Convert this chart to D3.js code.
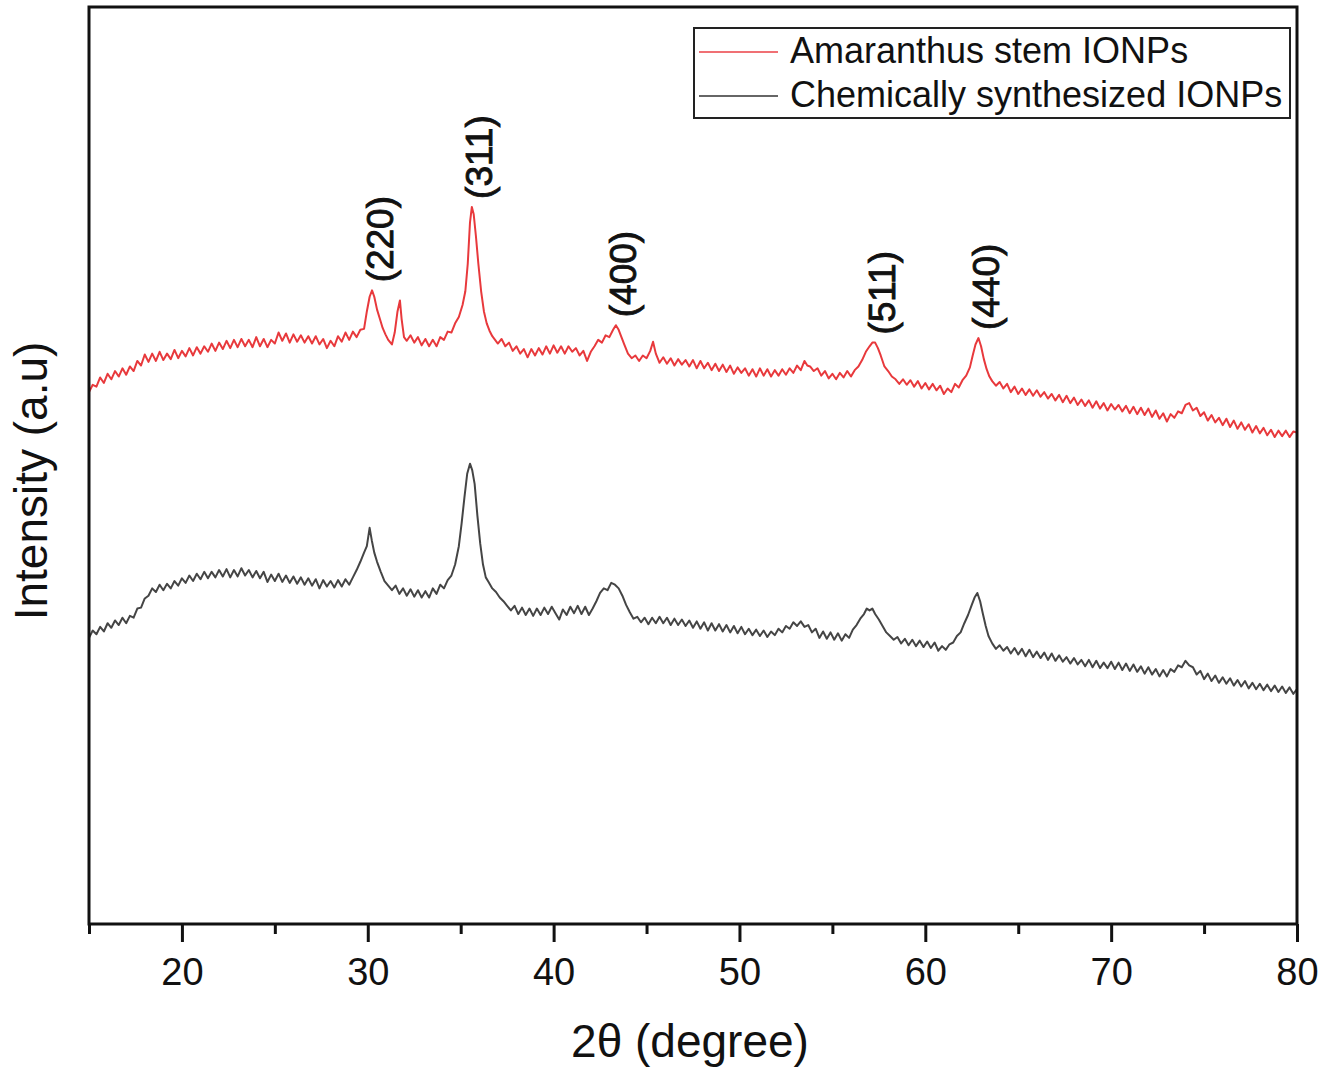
<!DOCTYPE html>
<html>
<head>
<meta charset="utf-8">
<script src="https://cdn.jsdelivr.net/npm/d3@7"></script>
<style>
  body { margin: 0; background: #fff; }
  text { font-family: Arial, "Liberation Sans", sans-serif; }
</style>
</head>
<body>
<div id="chart-area"></div>
<script>
// XRD patterns, [2theta, intensity (a.u.)]
const amaranthusStem = [
	[15.0,580],[15.2,588],[15.4,586],[15.6,596],[15.8,590],[16.0,600],[16.2,594],[16.4,603],[16.6,597],[16.8,606],
	[17.0,599],[17.2,608],[17.4,603],[17.6,614],[17.8,609],[18.0,621],[18.2,613],[18.4,622],[18.6,614],[18.8,624],
	[19.0,615],[19.2,622],[19.4,616],[19.6,626],[19.8,617],[20.0,625],[20.2,619],[20.4,628],[20.6,620],[20.8,629],
	[21.0,622],[21.2,630],[21.4,624],[21.6,633],[21.8,625],[22.0,634],[22.2,627],[22.4,636],[22.6,628],[22.8,637],
	[23.0,629],[23.2,638],[23.4,630],[23.6,637],[23.8,629],[24.0,640],[24.2,630],[24.4,638],[24.6,629],[24.8,637],
	[25.0,633],[25.2,645],[25.4,636],[25.6,644],[25.8,634],[26.0,643],[26.2,635],[26.4,642],[26.6,634],[26.8,641],
	[27.0,633],[27.2,641],[27.4,632],[27.6,638],[27.8,628],[28.0,636],[28.2,630],[28.4,641],[28.6,635],[28.8,645],
	[29.0,637],[29.2,646],[29.4,640],[29.6,648],[29.8,649],[29.95,668],[30.1,684],[30.23,691],[30.35,684],[30.5,670],
	[30.65,660],[30.8,650],[30.95,643],[31.1,637],[31.3,632],[31.45,645],[31.6,668],[31.73,680],[31.82,660],[31.95,640],
	[32.1,636],[32.3,642],[32.5,634],[32.7,640],[32.9,631],[33.1,638],[33.3,630],[33.5,637],[33.7,630],[33.9,640],
	[34.1,637],[34.3,646],[34.5,645],[34.7,655],[34.9,662],[35.1,675],[35.25,690],[35.38,720],[35.5,765],[35.6,782],
	[35.7,774],[35.82,750],[35.95,720],[36.1,690],[36.25,668],[36.4,655],[36.55,647],[36.7,641],[36.85,637],[37.0,633],
	[37.2,638],[37.4,630],[37.6,634],[37.8,625],[38.0,630],[38.2,622],[38.4,627],[38.6,618],[38.8,627],[39.0,620],
	[39.2,628],[39.4,621],[39.6,630],[39.8,622],[40.0,631],[40.2,623],[40.4,630],[40.6,622],[40.8,630],[41.0,624],
	[41.2,628],[41.4,620],[41.6,625],[41.8,614],[42.0,624],[42.2,630],[42.4,637],[42.6,634],[42.8,642],[43.0,640],
	[43.2,648],[43.35,653],[43.5,648],[43.65,640],[43.8,632],[44.0,622],[44.2,617],[44.4,620],[44.6,614],[44.8,620],
	[45.0,617],[45.2,625],[45.35,635],[45.5,622],[45.7,612],[45.9,618],[46.1,611],[46.3,617],[46.5,609],[46.7,616],
	[46.9,610],[47.1,615],[47.3,608],[47.5,615],[47.7,606],[47.9,614],[48.1,606],[48.3,612],[48.5,604],[48.7,611],
	[48.9,603],[49.1,610],[49.3,602],[49.5,609],[49.7,600],[49.9,607],[50.1,601],[50.3,606],[50.5,598],[50.7,605],
	[50.9,597],[51.1,606],[51.3,598],[51.5,605],[51.7,597],[51.9,604],[52.1,598],[52.3,605],[52.5,599],[52.7,606],
	[52.9,601],[53.1,609],[53.3,604],[53.5,614],[53.65,609],[53.8,608],[54.0,603],[54.2,606],[54.4,598],[54.6,603],
	[54.8,595],[55.0,600],[55.2,594],[55.4,601],[55.6,596],[55.8,603],[56.0,597],[56.2,604],[56.4,608],[56.6,615],
	[56.8,624],[57.0,630],[57.15,634],[57.3,634],[57.45,628],[57.6,620],[57.8,608],[58.0,603],[58.2,597],[58.4,594],
	[58.6,589],[58.8,594],[59.0,588],[59.2,593],[59.4,586],[59.6,592],[59.8,584],[60.0,590],[60.2,583],[60.4,589],
	[60.6,582],[60.8,587],[61.0,578],[61.2,584],[61.4,580],[61.6,589],[61.8,585],[62.0,593],[62.2,598],[62.4,607],
	[62.55,620],[62.7,632],[62.86,639],[63.0,630],[63.15,616],[63.3,605],[63.45,597],[63.6,592],[63.8,587],[64.0,591],
	[64.2,584],[64.4,589],[64.6,580],[64.8,586],[65.0,578],[65.2,584],[65.4,577],[65.6,583],[65.8,576],[66.0,582],
	[66.2,575],[66.4,580],[66.6,573],[66.8,578],[67.0,571],[67.2,577],[67.4,569],[67.6,576],[67.8,568],[68.0,574],
	[68.2,566],[68.4,572],[68.6,565],[68.8,571],[69.0,563],[69.2,570],[69.4,562],[69.6,568],[69.8,560],[70.0,567],
	[70.2,561],[70.4,566],[70.6,559],[70.8,565],[71.0,557],[71.2,564],[71.4,556],[71.6,563],[71.8,555],[72.0,562],
	[72.2,553],[72.4,560],[72.6,551],[72.8,557],[73.0,548],[73.2,556],[73.4,552],[73.6,559],[73.8,557],[74.0,566],
	[74.2,568],[74.4,560],[74.6,563],[74.8,554],[75.0,558],[75.2,549],[75.4,555],[75.6,547],[75.8,552],[76.0,544],
	[76.2,551],[76.4,542],[76.6,549],[76.8,540],[77.0,547],[77.2,539],[77.4,545],[77.6,536],[77.8,543],[78.0,535],
	[78.2,541],[78.4,533],[78.6,539],[78.8,531],[79.0,538],[79.2,532],[79.4,538],[79.6,531],[79.8,537],[80.0,536]
];

const chemicalSynth = [
	[15.0,312],[15.2,320],[15.4,316],[15.6,324],[15.8,319],[16.0,328],[16.2,323],[16.4,331],[16.6,326],[16.8,334],
	[17.0,328],[17.2,336],[17.4,334],[17.6,344],[17.8,345],[18.0,355],[18.2,358],[18.4,366],[18.6,362],[18.8,370],
	[19.0,364],[19.2,371],[19.4,366],[19.6,374],[19.8,369],[20.0,377],[20.2,372],[20.4,380],[20.6,374],[20.8,382],
	[21.0,376],[21.2,384],[21.4,377],[21.6,384],[21.8,378],[22.0,386],[22.2,379],[22.4,387],[22.6,378],[22.8,386],
	[23.0,379],[23.2,388],[23.4,380],[23.6,386],[23.8,378],[24.0,385],[24.2,377],[24.4,384],[24.6,373],[24.8,381],
	[25.0,374],[25.2,382],[25.4,373],[25.6,380],[25.8,372],[26.0,379],[26.2,371],[26.4,378],[26.6,370],[26.8,377],
	[27.0,369],[27.2,376],[27.4,366],[27.6,375],[27.8,368],[28.0,374],[28.2,367],[28.4,375],[28.6,368],[28.8,376],
	[29.0,370],[29.2,378],[29.4,386],[29.6,395],[29.8,405],[29.95,412],[30.1,432],[30.22,418],[30.35,405],[30.5,395],
	[30.7,384],[30.9,374],[31.1,369],[31.3,364],[31.5,369],[31.7,360],[31.9,366],[32.1,358],[32.3,365],[32.5,357],
	[32.7,364],[32.9,356],[33.1,363],[33.3,356],[33.5,366],[33.7,360],[33.9,370],[34.1,366],[34.3,375],[34.5,380],
	[34.7,392],[34.9,412],[35.05,437],[35.2,465],[35.35,491],[35.5,502],[35.62,495],[35.75,480],[35.9,445],[36.05,415],
	[36.2,392],[36.35,378],[36.5,373],[36.7,366],[36.9,362],[37.1,356],[37.3,352],[37.5,347],[37.7,342],[37.9,347],
	[38.1,338],[38.3,345],[38.5,337],[38.7,344],[38.9,336],[39.1,344],[39.3,337],[39.5,345],[39.7,338],[39.9,346],
	[40.1,339],[40.3,332],[40.5,343],[40.7,337],[40.9,346],[41.1,339],[41.3,347],[41.5,338],[41.7,346],[41.9,337],
	[42.1,344],[42.3,352],[42.5,361],[42.7,366],[42.9,364],[43.1,372],[43.3,370],[43.5,366],[43.7,358],[43.9,348],
	[44.1,340],[44.3,333],[44.5,335],[44.7,329],[44.9,334],[45.1,327],[45.3,334],[45.5,328],[45.7,335],[45.9,328],
	[46.1,334],[46.3,326],[46.5,333],[46.7,326],[46.9,332],[47.1,325],[47.3,331],[47.5,323],[47.7,330],[47.9,322],
	[48.1,329],[48.3,320],[48.5,328],[48.7,320],[48.9,327],[49.1,319],[49.3,326],[49.5,318],[49.7,325],[49.9,317],
	[50.1,324],[50.3,316],[50.5,322],[50.7,315],[50.9,321],[51.1,314],[51.3,320],[51.5,313],[51.7,319],[51.9,315],
	[52.1,322],[52.3,318],[52.5,325],[52.7,322],[52.9,329],[53.1,325],[53.3,330],[53.5,324],[53.7,326],[53.9,318],
	[54.1,322],[54.3,312],[54.5,319],[54.7,311],[54.9,318],[55.1,310],[55.3,317],[55.5,309],[55.7,316],[55.9,312],
	[56.1,321],[56.3,326],[56.5,333],[56.7,338],[56.85,344],[57.0,342],[57.15,344],[57.3,338],[57.5,332],[57.7,325],
	[57.9,318],[58.1,314],[58.3,310],[58.5,313],[58.7,306],[58.9,311],[59.1,304],[59.3,310],[59.5,303],[59.7,309],
	[59.9,302],[60.1,308],[60.3,301],[60.5,307],[60.7,298],[60.9,303],[61.1,299],[61.3,305],[61.5,307],[61.7,314],
	[61.9,318],[62.1,328],[62.3,337],[62.5,348],[62.65,356],[62.8,361],[62.95,352],[63.1,338],[63.25,325],[63.4,314],
	[63.6,306],[63.8,300],[64.0,304],[64.2,298],[64.4,302],[64.6,295],[64.8,301],[65.0,294],[65.2,300],[65.4,292],
	[65.6,299],[65.8,291],[66.0,297],[66.2,290],[66.4,296],[66.6,288],[66.8,295],[67.0,287],[67.2,293],[67.4,286],
	[67.6,291],[67.8,284],[68.0,290],[68.2,283],[68.4,288],[68.6,281],[68.8,288],[69.0,280],[69.2,287],[69.4,279],
	[69.6,285],[69.8,279],[70.0,286],[70.2,278],[70.4,285],[70.6,277],[70.8,284],[71.0,276],[71.2,283],[71.4,275],
	[71.6,281],[71.8,273],[72.0,280],[72.2,272],[72.4,278],[72.6,270],[72.8,277],[73.0,270],[73.2,278],[73.4,275],
	[73.6,282],[73.8,280],[74.0,287],[74.2,282],[74.4,280],[74.6,272],[74.8,276],[75.0,267],[75.2,273],[75.4,265],
	[75.6,271],[75.8,263],[76.0,269],[76.2,262],[76.4,268],[76.6,260],[76.8,266],[77.0,259],[77.2,265],[77.4,257],
	[77.6,263],[77.8,256],[78.0,262],[78.2,255],[78.4,261],[78.6,254],[78.8,260],[79.0,253],[79.2,259],[79.4,252],
	[79.6,258],[79.8,251],[80.0,256]
];

const seriesNames = ["Amaranthus stem IONPs", "Chemically synthesized IONPs"];
const seriesColors = ["#e8393c", "#454545"];

const xMajorTicks = [20, 30, 40, 50, 60, 70, 80];
const xMinorTicks = [15, 25, 35, 45, 55, 65, 75];

const peakLabels = ["(220)", "(311)", "(400)", "(511)", "(440)"];
const peakAngles = [30.23, 35.6, 43.35, 57.25, 62.86];

const margin = { left: 89, right: 33, top: 7, bottom: 148 };
const W = 1330, H = 1072;
const width = W - margin.left - margin.right;
const height = H - margin.top - margin.bottom;

const svg = d3.select("#chart-area")
	.append("svg")
	.attr("width", W)
	.attr("height", H);

svg.append("rect").attr("width", W).attr("height", H).attr("fill", "#fff");

const g = svg.append("g")
	.attr("transform", `translate(${margin.left}, ${margin.top})`);

const x = d3.scaleLinear().domain([15, 80]).range([0, width]);
const y = d3.scaleLinear().domain([0, 1000]).range([height, 0]);

g.append("clipPath").attr("id", "plot-clip")
	.append("rect").attr("width", width).attr("height", height);

// curves
const line = d3.line().x(d => x(d[0])).y(d => y(d[1]));

[amaranthusStem, chemicalSynth].forEach((data, i) => {
	g.append("path")
		.datum(data)
		.attr("clip-path", "url(#plot-clip)")
		.attr("fill", "none")
		.attr("stroke", seriesColors[i])
		.attr("stroke-width", 2)
		.attr("stroke-linejoin", "round")
		.attr("d", line);
});

// peak labels, placed just above the top pattern
peakLabels.forEach((lab, i) => {
	const near = amaranthusStem.filter(d => Math.abs(d[0] - peakAngles[i]) < 0.3);
	const top = d3.max(near, d => d[1]);
	const px = x(peakAngles[i]) + 8;
	const py = y(top) - 8;
	g.append("text")
		.attr("transform", `translate(${px}, ${py}) rotate(-90)`)
		.attr("dominant-baseline", "central")
		.attr("text-anchor", "start")
		.attr("font-size", "37px")
		.attr("fill", "#111")
		.attr("stroke", "#111")
		.attr("stroke-width", 0.9)
		.text(lab);
});

// frame
g.append("rect")
	.attr("width", width)
	.attr("height", height)
	.attr("fill", "none")
	.attr("stroke", "#111")
	.attr("stroke-width", 3);

// x axis
const xAxisCall = d3.axisBottom(x)
	.tickValues(xMajorTicks)
	.tickSize(18)
	.tickPadding(16)
	.tickFormat(d3.format("d"));
const xAxis = g.append("g")
	.attr("class", "x-axis")
	.attr("transform", `translate(0, ${height})`)
	.call(xAxisCall);
xAxis.select(".domain").remove();
xAxis.selectAll("line").attr("stroke", "#111").attr("stroke-width", 3);
xAxis.selectAll("text")
	.attr("font-size", "38px")
	.attr("font-family", "Arial, 'Liberation Sans', sans-serif")
	.attr("fill", "#111");

const xMinorCall = d3.axisBottom(x)
	.tickValues(xMinorTicks)
	.tickSize(10)
	.tickFormat("");
const xMinor = g.append("g")
	.attr("transform", `translate(0, ${height})`)
	.call(xMinorCall);
xMinor.select(".domain").remove();
xMinor.selectAll("line").attr("stroke", "#111").attr("stroke-width", 3);

// axis titles
svg.append("text")
	.attr("x", 690)
	.attr("y", 1057)
	.attr("text-anchor", "middle")
	.attr("font-size", "46px")
	.attr("fill", "#111")
	.text("2θ (degree)");

svg.append("text")
	.attr("transform", "translate(47, 481) rotate(-90)")
	.attr("text-anchor", "middle")
	.attr("font-size", "46px")
	.attr("fill", "#111")
	.text("Intensity (a.u)");

// legend
const legend = svg.append("g").attr("transform", "translate(694, 28)");
legend.append("rect")
	.attr("width", 596)
	.attr("height", 90)
	.attr("fill", "#fff")
	.attr("stroke", "#222")
	.attr("stroke-width", 2);

seriesNames.forEach((name, i) => {
	const ly = 24 + i * 44;
	legend.append("line")
		.attr("x1", 5).attr("x2", 84)
		.attr("y1", ly).attr("y2", ly)
		.attr("stroke", i === 0 ? "#f07074" : "#666")
		.attr("stroke-width", 2);
	legend.append("text")
		.attr("x", 96)
		.attr("y", ly + 11)
		.attr("font-size", "36px")
		.attr("fill", "#111")
		.text(name);
});
</script>
</body>
</html>
